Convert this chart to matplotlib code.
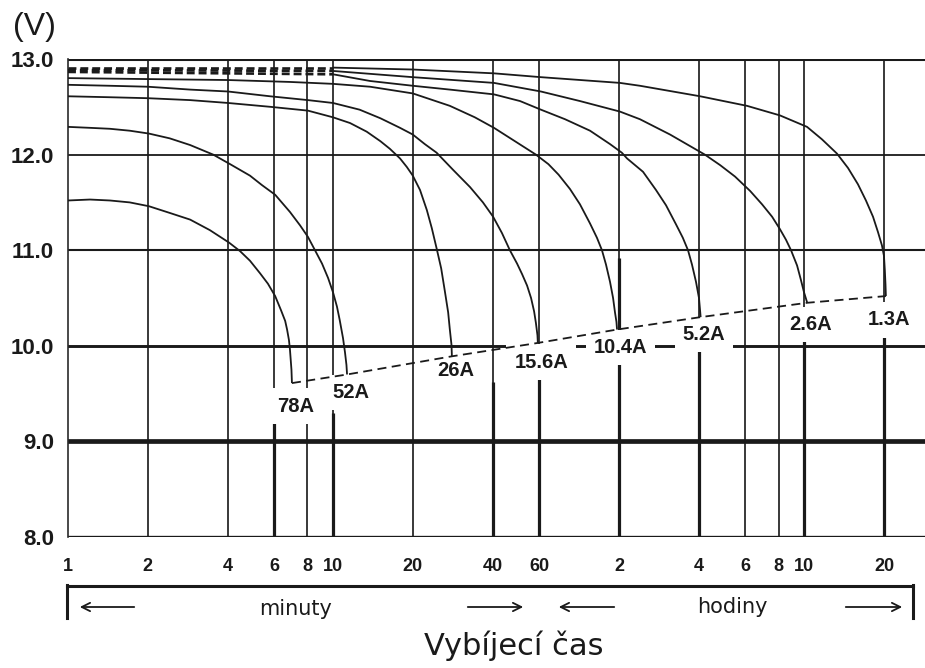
import matplotlib
matplotlib.use("Agg")
import matplotlib.pyplot as plt
from matplotlib.lines import Line2D

# ---- discharge characteristics: time (min) vs terminal voltage (V) ----
currents = ["78A", "52A", "26A", "15.6A", "10.4A", "5.2A", "2.6A", "1.3A"]

t_78 = [1, 1.21, 1.44, 1.71, 2.02, 2.42, 2.89, 3.43, 4.05, 4.46, 4.86, 5.30,
        5.68, 6.05, 6.37, 6.6, 6.71, 6.82, 6.88, 6.97, 7.0]
v_78 = [11.52, 11.53, 11.52, 11.50, 11.46, 11.39, 11.32, 11.21, 11.08, 10.99,
        10.89, 10.76, 10.65, 10.52, 10.37, 10.26, 10.17, 10.06, 9.96, 9.75, 9.61]

t_52 = [1, 1.21, 1.44, 1.71, 2.02, 2.42, 2.89, 3.53, 4.09, 4.86, 5.40, 6.05,
        6.88, 7.51, 8.04, 8.55, 9.09, 9.58, 10.0, 10.35, 10.6, 10.91, 11.1,
        11.24, 11.3]
v_52 = [12.29, 12.28, 12.27, 12.25, 12.22, 12.17, 12.10, 12.00, 11.90, 11.78,
        11.68, 11.58, 11.40, 11.26, 11.14, 11.00, 10.86, 10.71, 10.56, 10.41,
        10.27, 10.08, 9.93, 9.80, 9.70]

t_26 = [1, 1.44, 2.0, 2.89, 4.02, 5.79, 8.04, 10, 11.6, 13.4, 15.1, 16.4,
        17.9, 19.0, 20.0, 21.3, 22.6, 23.6, 24.6, 25.6, 26.4, 27.2, 27.6,
        28.0, 28.1]
v_26 = [12.61, 12.60, 12.59, 12.57, 12.54, 12.50, 12.46, 12.39, 12.33, 12.24,
        12.14, 12.06, 11.96, 11.87, 11.78, 11.63, 11.42, 11.23, 11.02, 10.81,
        10.58, 10.35, 10.17, 10.01, 9.89]

t_156 = [1, 1.44, 2.0, 2.89, 4.02, 5.79, 8.04, 10, 12.6, 15.1, 17.9, 20.0,
         22.2, 24.6, 28.4, 32.9, 36.8, 40.2, 43.4, 46.5, 49.5, 51.7, 54.0,
         55.9, 57.4, 58.3, 59.1, 59.3]
v_156 = [12.73, 12.72, 12.71, 12.68, 12.66, 12.61, 12.57, 12.54, 12.47, 12.38,
         12.28, 12.21, 12.11, 12.02, 11.84, 11.66, 11.50, 11.35, 11.18, 11.00,
         10.86, 10.75, 10.63, 10.50, 10.36, 10.24, 10.11, 10.03]

t_104 = [1, 2.0, 4.02, 6.88, 10, 13.8, 20.0, 27.6, 34.3, 40.5, 48.6, 58.3,
         65.0, 71.0, 78.4, 85.5, 93.3, 99.1, 103.5, 107.2, 111, 114, 115.9,
         117.4, 118]
v_104 = [12.80, 12.79, 12.78, 12.76, 12.74, 12.71, 12.64, 12.51, 12.39, 12.28,
         12.14, 12.00, 11.90, 11.79, 11.64, 11.48, 11.28, 11.13, 11.00, 10.85,
         10.67, 10.50, 10.35, 10.25, 10.17]

# low-current curves: estimated (dashed) part up to 10 min, then measured
t_52a_est = [1, 10]
v_52a_est = [12.865, 12.84]
t_52a = [10, 13.8, 20.0, 27.6, 40.5, 50.8, 60.9, 75.1, 93.3, 111, 123, 128.7,
         147.9, 165.5, 180.6, 197, 209, 218.6, 226.3, 234.3, 240.5, 244]
v_52a = [12.84, 12.77, 12.72, 12.68, 12.63, 12.56, 12.47, 12.37, 12.25, 12.11,
         12.02, 11.96, 11.82, 11.63, 11.47, 11.27, 11.13, 11.00, 10.85, 10.67,
         10.50, 10.30]

t_26a_est = [1, 10]
v_26a_est = [12.885, 12.875]
t_26a = [10, 20, 40.5, 60.9, 85.5, 121, 144, 187, 253, 289, 329, 375, 416,
         454, 486, 512, 535, 564, 583, 599, 616]
v_26a = [12.875, 12.81, 12.75, 12.66, 12.56, 12.45, 12.37, 12.21, 12.00, 11.89,
         11.77, 11.62, 11.48, 11.35, 11.22, 11.11, 11.00, 10.84, 10.69, 10.56,
         10.45]

t_13a_est = [1, 10]
v_13a_est = [12.91, 12.91]
t_13a = [10, 20, 40.5, 60.9, 121, 144, 243, 365, 486, 615, 700, 798, 878, 957,
         1026, 1091, 1139, 1179, 1200, 1209, 1216, 1220]
v_13a = [12.91, 12.89, 12.85, 12.81, 12.75, 12.72, 12.61, 12.51, 12.41, 12.29,
         12.16, 12.01, 11.86, 11.69, 11.52, 11.35, 11.19, 11.05, 10.94, 10.79,
         10.64, 10.52]

solid_curves = [(t_78, v_78), (t_52, v_52), (t_26, v_26), (t_156, v_156),
                (t_104, v_104), (t_52a, v_52a), (t_26a, v_26a), (t_13a, v_13a)]
dashed_parts = [(t_52a_est, v_52a_est), (t_26a_est, v_26a_est), (t_13a_est, v_13a_est)]

# axis ticks
x_ticks = [1, 2, 4, 6, 8, 10, 20, 40, 60, 120, 240, 360, 480, 600, 1200]
x_tick_labels = ["1", "2", "4", "6", "8", "10", "20", "40", "60",
                 "2", "4", "6", "8", "10", "20"]
y_ticks = [8.0, 9.0, 10.0, 11.0, 12.0, 13.0]
y_tick_labels = ["8.0", "9.0", "10.0", "11.0", "12.0", "13.0"]

# ---- styling ----
W, H, DPI = 925, 668, 100
INK = "#1a1a1a"
GRID = "#2a2a2a"
hline_width = {8.0: 2.4, 9.0: 3.4, 10.0: 2.1, 11.0: 1.5, 12.0: 1.3, 13.0: 2.2}
# heavier lower segments of some time gridlines (time, top voltage)
heavy_segments = [(6, 9.3), (10, 9.3), (40, 9.62), (60, 9.74), (120, 10.92),
                  (240, 10.1), (600, 10.2), (1200, 10.2)]
label_dy = [-0.24, -0.19, -0.15, -0.20, -0.19, -0.18, -0.23, -0.25]

fig = plt.figure(figsize=(W / DPI, H / DPI), dpi=DPI)
ax = fig.add_axes([68 / W, (H - 537) / H, 1 - 68 / W, (537 - 59) / H])
ax.set_xscale("log")
ax.set_xlim(1, 1714)
ax.set_ylim(8.0, 13.0)

for s in ["top", "right", "bottom"]:
    ax.spines[s].set_visible(False)
ax.spines["left"].set_linewidth(1.2)
ax.spines["left"].set_color(GRID)

# grid
for xv in x_ticks[1:]:
    ax.axvline(xv, color=GRID, lw=1.3, zorder=1)
for xv, vtop in heavy_segments:
    ax.plot([xv, xv], [8.0, vtop], color=INK, lw=2.3, zorder=1.1,
            solid_capstyle="butt")
for yv in y_ticks:
    ax.axhline(yv, color=INK, lw=hline_width[yv], zorder=1.2)

# curves
for t, v in solid_curves:
    ax.plot(t, v, color=INK, lw=1.3, zorder=4, solid_capstyle="butt",
            solid_joinstyle="round")
for t, v in dashed_parts:
    ln, = ax.plot(t, v, color=INK, lw=1.9, zorder=4)
    ln.set_dashes((3.0, 1.5))

# end-of-discharge line through the final point of every curve
end_t = [c[0][-1] for c in solid_curves]
end_v = [c[1][-1] for c in solid_curves]
ln, = ax.plot(end_t, end_v, color=INK, lw=1.3, zorder=4)
ln.set_dashes((5, 3))

# current labels
for name, t, v, dy in zip(currents, end_t, end_v, label_dy):
    ax.text(t * 1.03, v + dy, name, ha="center", va="center",
            fontsize=14.5, fontweight="bold", family="Liberation Sans",
            color=INK, zorder=3,
            bbox=dict(boxstyle="square,pad=0.4", fc="white", ec="none"))

# ticks
ax.set_xticks(x_ticks)
ax.set_xticklabels(x_tick_labels)
ax.xaxis.set_minor_locator(matplotlib.ticker.NullLocator())
ax.set_yticks(y_ticks)
ax.set_yticklabels(y_tick_labels)
ax.tick_params(axis="x", length=0, pad=15, labelsize=13, colors=INK)
ax.tick_params(axis="y", length=0, pad=10, labelsize=16, colors=INK)
for lab in ax.get_xticklabels() + ax.get_yticklabels():
    lab.set_fontweight("bold")
    lab.set_family("Liberation Sans")

# overlay for annotations outside the plot, in pixel units
ov = fig.add_axes([0, 0, 1, 1], facecolor="none")
ov.set_xlim(0, W)
ov.set_ylim(H, 0)
ov.axis("off")

ov.text(13, 27, "(V)", fontsize=23, family="Liberation Sans", color=INK,
        ha="left", va="center")

# minutes / hours bracket
ov.add_line(Line2D([67, 913], [586, 586], color=INK, lw=2.2))
ov.add_line(Line2D([67, 67], [585, 618], color=INK, lw=2.2))
ov.add_line(Line2D([913, 913], [585, 618], color=INK, lw=2.2))

arrow_kw = dict(arrowstyle="->,head_length=0.6,head_width=0.3", color=INK, lw=1.3)
for x0, x1 in [(137, 77), (465, 526), (617, 556), (843, 905)]:
    ov.annotate("", xy=(x1, 607), xytext=(x0, 607), arrowprops=arrow_kw)

ov.text(296, 609, "minuty", fontsize=15, family="DejaVu Sans", color=INK,
        ha="center", va="center")
ov.text(732, 607, "hodiny", fontsize=15, family="DejaVu Sans", color=INK,
        ha="center", va="center")
ov.text(514, 646, "Vybíjecí čas", fontsize=22, family="DejaVu Sans",
        color=INK, ha="center", va="center")

fig.savefig("out.png", dpi=DPI, facecolor="white")
